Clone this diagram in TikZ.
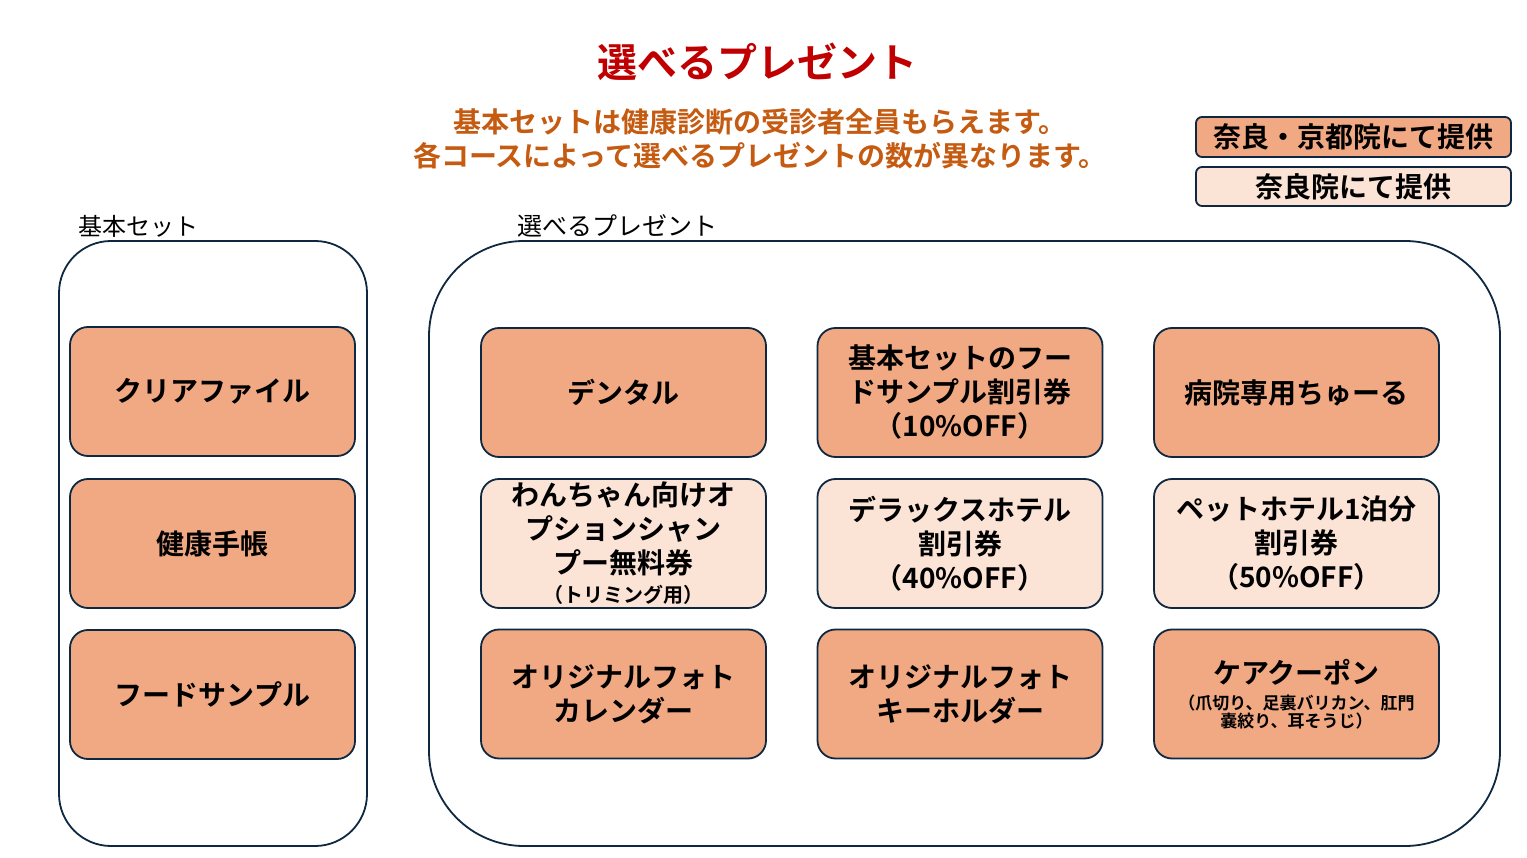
\documentclass[tikz,border=0pt]{standalone}
\usepackage{fontspec}
\newfontfamily\jp{Noto Sans CJK JP}[BoldFont={Noto Sans CJK JP Bold}]
\definecolor{dk}{HTML}{F1A983}
\definecolor{lt}{HTML}{FBE3D6}
\definecolor{bd}{HTML}{0E2841}
\definecolor{ttl}{HTML}{C00000}
\definecolor{sub}{HTML}{C55A11}
\tikzset{
  frame/.style={draw=bd, line width=1.8pt, inner sep=0pt},
  item/.style={frame, rounded corners=18pt, minimum width=285pt, minimum height=129pt,
    align=center, text=black, font=\jp\bfseries\fontsize{28}{34}\selectfont},
  dkbox/.style={item, fill=dk},
  ltbox/.style={item, fill=lt},
  legend/.style={frame, rounded corners=6pt, minimum width=315pt, minimum height=39pt,
    text=black, font=\jp\bfseries\fontsize{28}{34}\selectfont},
  headtxt/.style={font=\jp\bfseries\fontsize{28}{34}\selectfont, text=sub, inner sep=0pt},
  grouplabel/.style={font=\jp\fontsize{24}{28}\selectfont, anchor=west, inner sep=0pt}
}
\begin{document}
\begin{tikzpicture}[x=1pt,y=-1pt]
\useasboundingbox[fill=white] (0,0) rectangle (1527,858);
% titles
\node[font=\jp\bfseries\fontsize{40}{48}\selectfont, text=ttl, inner sep=0pt] (title) at (757,62) {選べるプレゼント};
\node[headtxt] (sub1) at (760,122) {基本セットは健康診断の受診者全員もらえます。};
\node[headtxt] (sub2) at (760,156) {各コースによって選べるプレゼントの数が異なります。};
% legend
\node[legend, fill=dk, minimum height=40pt] (leg1) at (1353.5,137) {奈良・京都院にて提供};
\node[legend, fill=lt] (leg2) at (1353.5,186.5) {奈良院にて提供};
% group labels
\node[grouplabel] (lblbasic) at (78,226) {基本セット};
\node[grouplabel, font=\jp\fontsize{25}{29}\selectfont] (lblchoice) at (517,226) {選べるプレゼント};
% outer frames
\node[frame, rounded corners=52pt, minimum width=308pt, minimum height=605pt] (basic) at (213,543.5) {};
\node[frame, rounded corners=95pt, minimum width=1071pt, minimum height=605pt] (choice) at (964.5,543.5) {};
% basic set
\node[dkbox] (b1) at (212.5,391.5) {クリアファイル};
\node[dkbox] (b2) at (212.5,543.5) {健康手帳};
\node[dkbox] (b3) at (212.5,694.5) {フードサンプル};
% choices row 1
\node[dkbox] (c11) at (623.5,392.5) {デンタル};
\node[dkbox] (c12) at (960,392.5) {基本セットのフー\\ドサンプル割引券\\（10\%OFF）};
\node[dkbox] (c13) at (1296.5,392.5) {病院専用ちゅーる};
% row 2
\node[ltbox] (c21) at (623.5,543.5) {わんちゃん向けオ\\プションシャン\\プー無料券\\[-5pt]{\fontsize{20}{24}\selectfont （トリミング用）}};
\node[ltbox] (c22) at (960,543.5) {デラックスホテル\\割引券\\（40\%OFF）};
\node[ltbox] (c23) at (1296.5,543.5) {ペットホテル1泊分\\割引券\\（50\%OFF）};
% row 3
\node[dkbox] (c31) at (623.5,694) {オリジナルフォト\\カレンダー};
\node[dkbox] (c32) at (960,694) {オリジナルフォト\\キーホルダー};
\node[dkbox] (c33) at (1296.5,694) {ケアクーポン\\[-8pt]{\fontsize{17}{18}\selectfont （爪切り、足裏バリカン、肛門}\\[-16pt]{\fontsize{17}{18}\selectfont 嚢絞り、耳そうじ）}};
\end{tikzpicture}
\end{document}
